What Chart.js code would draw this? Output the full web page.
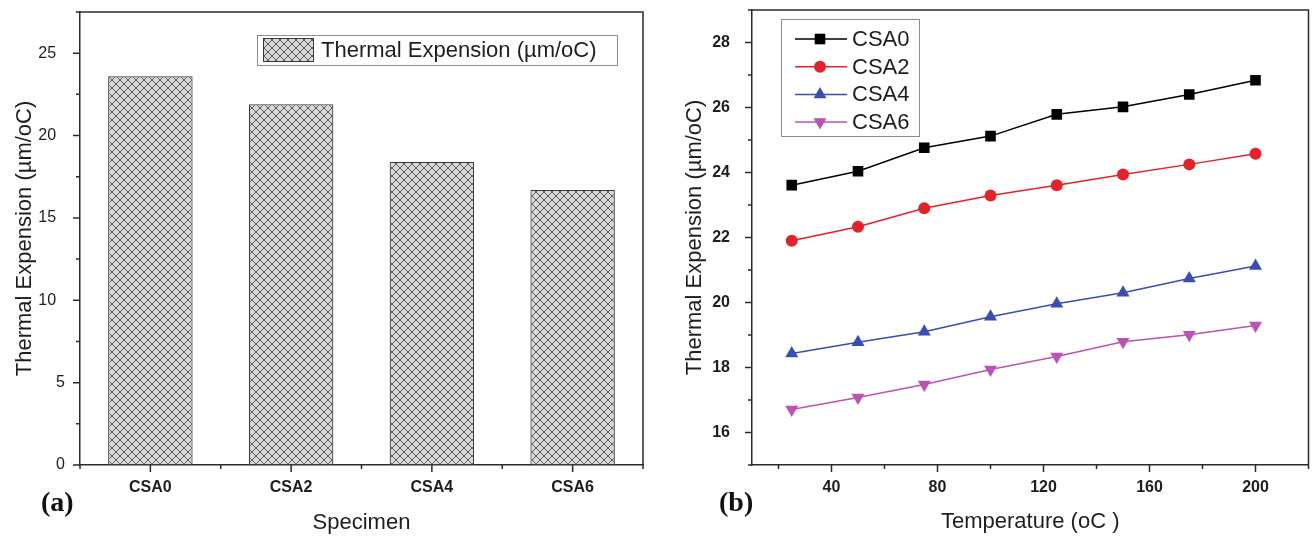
<!DOCTYPE html>
<html>
<head>
<meta charset="utf-8">
<title>Thermal expansion</title>
<script src="https://cdn.jsdelivr.net/npm/chart.js@4/dist/chart.umd.min.js"></script>
<style>
  html, body { margin: 0; padding: 0; background: #fff; }
  #wrap { position: relative; width: 1316px; height: 537px; overflow: hidden; }
  #barBox { position: absolute; left: 0; top: 0; width: 660px; height: 537px; }
  #lineBox { position: absolute; left: 660px; top: 0; width: 656px; height: 537px; }
  canvas { display: block; }
  .panel { position: absolute; font: bold 28px "Liberation Serif", "Times New Roman", serif; line-height: 28px; color: #111; }
</style>
</head>
<body>
<div id="wrap">
  <div id="barBox"><canvas id="barChart" width="660" height="537"></canvas></div>
  <div id="lineBox"><canvas id="lineChart" width="656" height="537"></canvas></div>
  <div class="panel" style="left:41px; top:488px;">(a)</div>
  <div class="panel" style="left:719px; top:488px;">(b)</div>
</div>
<script>
// bar panel: expansion per specimen
const specimens = ['CSA0', 'CSA2', 'CSA4', 'CSA6'];
const expansion = [23.6, 21.9, 18.4, 16.7];

// line panel: expansion vs temperature
const temperatures = [25, 50, 75, 100, 125, 150, 175, 200];
const csa0 = [23.61, 24.04, 24.76, 25.12, 25.79, 26.02, 26.40, 26.84];
const csa2 = [21.90, 22.33, 22.90, 23.29, 23.61, 23.94, 24.25, 24.58];
const csa4 = [18.43, 18.78, 19.10, 19.56, 19.96, 20.30, 20.74, 21.12];
const csa6 = [16.71, 17.08, 17.48, 17.94, 18.34, 18.79, 19.01, 19.29];

const yTitle = 'Thermal Expension (µm/oC)';
const barLabel = 'Thermal Expension (µm/oC)';
const xTitleBar = 'Specimen';
const xTitleLine = 'Temperature (oC )';

const SANS = '"Liberation Sans", Arial, sans-serif';
const AXIS = '#2b2b2b';
const INK = '#1e1e1e';

Chart.defaults.font.family = SANS;
Chart.defaults.color = INK;

function xy(values) {
  return temperatures.map((t, i) => ({ x: t, y: values[i] }));
}

// grey fill with a diagonal cross hatch
function crossHatch(ctx) {
  const c = document.createElement('canvas');
  c.width = 8; c.height = 8;
  const g = c.getContext('2d');
  g.fillStyle = '#d8d8d8';
  g.fillRect(0, 0, 8, 8);
  g.strokeStyle = '#5c5c5c';
  g.lineWidth = 1;
  g.beginPath();
  for (const k of [-8, 0, 8]) {
    g.moveTo(k, 0); g.lineTo(k + 8, 8);
    g.moveTo(k + 8, 0); g.lineTo(k, 8);
  }
  g.stroke();
  return ctx.createPattern(c, 'repeat');
}

// keep the plot box exactly where the layout padding puts it
function fixWidth(w) {
  return s => { s.width = w; s.paddingTop = 0; s.paddingBottom = 0; };
}
function fixHeight(h) {
  return s => { s.height = h; s.paddingLeft = 0; s.paddingRight = 0; };
}

// outward tick marks: long ones where there is a label, short ones between
const tickMarks = {
  id: 'tickMarks',
  afterDraw(chart) {
    const ctx = chart.ctx;
    ctx.save();
    ctx.strokeStyle = AXIS;
    ctx.lineWidth = 1.5;
    ctx.beginPath();
    Object.values(chart.scales).forEach(scale => {
      const marks = [];
      const n = scale.ticks.length;
      scale.ticks.forEach((t, i) => {
        const p = scale.getPixelForTick(i);
        marks.push([p, String(t.label).trim() !== '' ? 7 : 4]);
        if (scale.type === 'category') {
          const half = scale.width / n / 2;
          marks.push([p - half, 4]);
          if (i === n - 1) marks.push([p + half, 4]);
        }
      });
      marks.forEach(([p, len]) => {
        if (scale.isHorizontal()) {
          ctx.moveTo(p, scale.top); ctx.lineTo(p, scale.top + len);
        } else {
          ctx.moveTo(scale.right - len, p); ctx.lineTo(scale.right, p);
        }
      });
    });
    ctx.stroke();
    ctx.restore();
  }
};

// top and right edges of the plot frame
const frame = {
  id: 'frame',
  afterDraw(chart) {
    const { ctx, chartArea: a } = chart;
    ctx.save();
    ctx.strokeStyle = AXIS;
    ctx.lineWidth = 1.5;
    ctx.beginPath();
    ctx.moveTo(a.left, a.top);
    ctx.lineTo(a.right, a.top);
    ctx.lineTo(a.right, a.bottom);
    ctx.stroke();
    ctx.restore();
  }
};

// boxed legend with a hatched swatch
const swatchLegend = {
  id: 'swatchLegend',
  afterDraw(chart, args, o) {
    const ctx = chart.ctx;
    const ds = chart.data.datasets[0];
    ctx.save();
    ctx.fillStyle = '#fff';
    ctx.fillRect(o.x, o.y, o.w, o.h);
    ctx.strokeStyle = '#8c8c8c';
    ctx.lineWidth = 1;
    ctx.strokeRect(o.x + 0.5, o.y + 0.5, o.w, o.h);
    ctx.fillStyle = ds.backgroundColor;
    ctx.fillRect(o.x + 6, o.y + 3, 51, 24);
    ctx.strokeStyle = ds.borderColor;
    ctx.strokeRect(o.x + 6.5, o.y + 3.5, 50, 23);
    ctx.fillStyle = INK;
    ctx.font = '22px ' + SANS;
    ctx.textBaseline = 'middle';
    ctx.fillText(ds.label, o.x + 64, o.y + o.h / 2 + 1);
    ctx.restore();
  }
};

// boxed legend with line + marker samples
const seriesLegend = {
  id: 'seriesLegend',
  afterDraw(chart, args, o) {
    const ctx = chart.ctx;
    ctx.save();
    ctx.fillStyle = '#fff';
    ctx.fillRect(o.x, o.y, o.w, o.h);
    ctx.strokeStyle = '#8c8c8c';
    ctx.lineWidth = 1;
    ctx.strokeRect(o.x + 0.5, o.y + 0.5, o.w, o.h);
    chart.data.datasets.forEach((ds, i) => {
      const cy = o.y + o.first + i * o.row;
      ctx.strokeStyle = ds.borderColor;
      ctx.lineWidth = ds.borderWidth;
      ctx.beginPath();
      ctx.moveTo(o.x + 14, cy);
      ctx.lineTo(o.x + 66, cy);
      ctx.stroke();
      ctx.fillStyle = ds.pointBackgroundColor;
      Chart.helpers.drawPoint(ctx, {
        pointStyle: ds.pointStyle,
        rotation: ds.pointRotation || 0,
        radius: ds.pointRadius,
        borderWidth: 0
      }, o.x + 39, cy);
      ctx.fillStyle = INK;
      ctx.font = '22px ' + SANS;
      ctx.textBaseline = 'middle';
      ctx.fillText(ds.label, o.x + 71, cy + 1);
    });
    ctx.restore();
  }
};

const barCanvas = document.getElementById('barChart');
const hatch = crossHatch(barCanvas.getContext('2d'));

new Chart(barCanvas, {
  type: 'bar',
  data: {
    labels: specimens,
    datasets: [{
      label: barLabel,
      data: expansion,
      backgroundColor: hatch,
      borderColor: '#3a3a3a',
      borderWidth: 1.2,
      borderSkipped: false,
      barPercentage: 0.6,
      categoryPercentage: 1
    }]
  },
  options: {
    responsive: false,
    animation: false,
    events: [],
    layout: { padding: { top: 12, right: 17, left: 0, bottom: 0 } },
    plugins: {
      legend: { display: false },
      tooltip: { enabled: false },
      swatchLegend: { x: 257, y: 35, w: 360, h: 30 }
    },
    scales: {
      x: {
        grid: { display: false, tickLength: 7 },
        border: { color: AXIS, width: 1.5 },
        ticks: { font: { size: 16, weight: 'bold' }, color: INK, padding: 6 },
        title: { display: true, text: xTitleBar, font: { size: 22 }, color: INK, padding: { top: 0, bottom: 1 } },
        afterFit: fixHeight(72)
      },
      y: {
        min: 0,
        max: 27.5,
        grid: { display: false, tickLength: 7 },
        border: { color: AXIS, width: 1.5 },
        ticks: {
          stepSize: 2.5,
          autoSkip: false,
          font: { size: 16 },
          color: INK,
          padding: 8,
          // two-digit labels sit one figure further out
          callback: v => (v % 5 !== 0 ? '' : v >= 10 ? v + '\u2007' : String(v))
        },
        title: { display: true, text: yTitle, font: { size: 22 }, color: INK, padding: { top: 12, bottom: 0 } },
        afterFit: fixWidth(80)
      }
    }
  },
  plugins: [tickMarks, frame, swatchLegend]
});

new Chart(document.getElementById('lineChart'), {
  type: 'line',
  data: {
    datasets: [
      { label: 'CSA0', data: xy(csa0), borderColor: '#000000', pointBackgroundColor: '#000000', pointStyle: 'rect', pointRadius: 7.5 },
      { label: 'CSA2', data: xy(csa2), borderColor: '#e4222a', pointBackgroundColor: '#e4222a', pointStyle: 'circle', pointRadius: 6 },
      { label: 'CSA4', data: xy(csa4), borderColor: '#3a4db2', pointBackgroundColor: '#3a4db2', pointStyle: 'triangle', pointRadius: 7.5 },
      { label: 'CSA6', data: xy(csa6), borderColor: '#bb52b4', pointBackgroundColor: '#bb52b4', pointStyle: 'triangle', pointRotation: 180, pointRadius: 7.5 }
    ].map(d => Object.assign({ borderWidth: 1.5, pointBorderWidth: 0, tension: 0 }, d))
  },
  options: {
    responsive: false,
    animation: false,
    events: [],
    layout: { padding: { top: 10, right: 5, left: 0, bottom: 0 } },
    plugins: {
      legend: { display: false },
      tooltip: { enabled: false },
      seriesLegend: { x: 121, y: 19, w: 138, h: 117, first: 20, row: 27.7 }
    },
    scales: {
      x: {
        type: 'linear',
        min: 10,
        max: 220,
        grid: { display: false, tickLength: 7 },
        border: { color: AXIS, width: 1.5 },
        ticks: {
          stepSize: 20,
          includeBounds: false,
          autoSkip: false,
          maxRotation: 0,
          font: { size: 16, weight: 'bold' },
          color: INK,
          padding: 6,
          callback: v => (v % 40 === 0 && v <= 200 ? v : '')
        },
        title: { display: true, text: xTitleLine, font: { size: 22 }, color: INK, padding: { top: 0, bottom: 2 } },
        afterFit: fixHeight(72)
      },
      y: {
        min: 15,
        max: 29,
        grid: { display: false, tickLength: 7 },
        border: { color: AXIS, width: 1.5 },
        ticks: {
          stepSize: 1,
          autoSkip: false,
          font: { size: 16, weight: 'bold' },
          color: INK,
          padding: 15,
          callback: v => (v % 2 === 0 ? v : '')
        },
        title: { display: true, text: yTitle, font: { size: 22 }, color: INK, padding: { top: 22, bottom: 0 } },
        afterFit: fixWidth(92)
      }
    }
  },
  plugins: [tickMarks, frame, seriesLegend]
});
</script>
</body>
</html>
